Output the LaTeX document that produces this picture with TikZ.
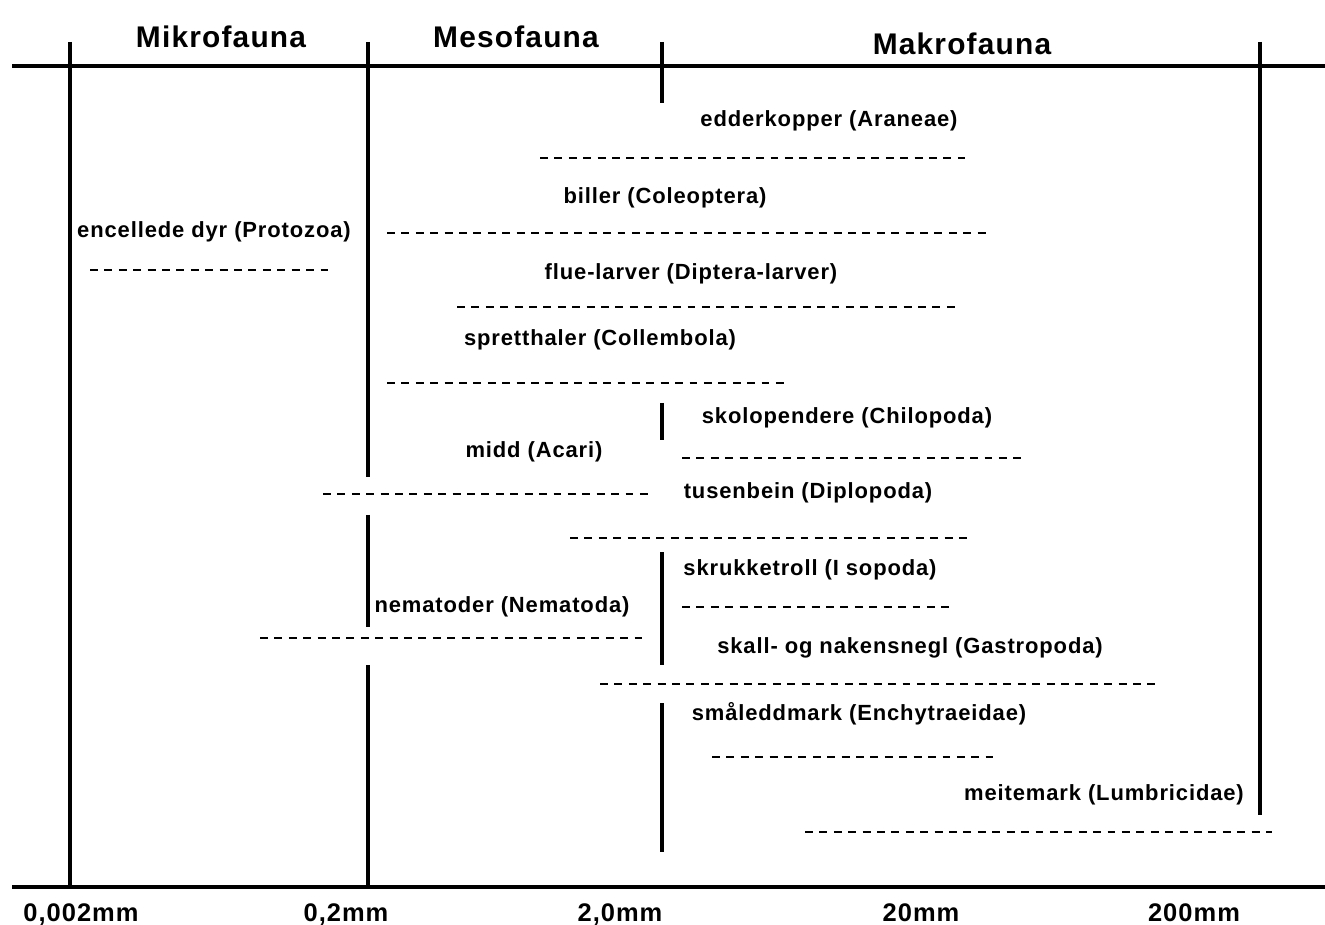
\documentclass[tikz,border=0pt]{standalone}
\usepackage{fontspec}
\setmainfont{Liberation Sans}[LetterSpace=4]
\usepackage{tikz}
\usetikzlibrary{positioning}

\begin{document}
\begin{tikzpicture}[x=0.02cm,y=-0.02cm,semithick]
  \tikzstyle{grouplabel}=[font=\fontsize{17}{20}\selectfont\bfseries,text height=1.6ex,text depth=.4ex]
  \tikzstyle{taxonlabel}=[font=\fontsize{12.5}{15}\selectfont\bfseries,inner sep=0pt,text height=1.6ex,text depth=.4ex]
  \tikzstyle{sizelabel}=[font=\fontsize{14.5}{17}\selectfont\bfseries,inner sep=0pt,text height=1.6ex,text depth=.4ex]
  \tikzstyle{rangeline}=[line width=1.4pt,dash pattern=on 4.5pt off 3.7pt]
  \tikzstyle{barline}=[line width=1.9pt]
  \useasboundingbox (0,0) rectangle (1325,925);

  % frame
  \coordinate (L1) at (12,66);    \coordinate (R1) at (1325,66);
  \coordinate (L2) at (12,887);   \coordinate (R2) at (1325,887);
  \coordinate (A0) at (70,42);    \coordinate (A1) at (70,887);
  \coordinate (B0) at (368,42);   \coordinate (B1) at (368,477);
  \coordinate (B2) at (368,515);  \coordinate (B3) at (368,627);
  \coordinate (B4) at (368,665);  \coordinate (B5) at (368,887);
  \coordinate (C0) at (662,42);   \coordinate (C1) at (662,103);
  \coordinate (C2) at (662,403);  \coordinate (C3) at (662,440);
  \coordinate (C4) at (662,552);  \coordinate (C5) at (662,665);
  \coordinate (C6) at (662,703);  \coordinate (C7) at (662,852);
  \coordinate (D0) at (1260,42);  \coordinate (D1) at (1260,815);

  \draw[line width=2.2pt] (L1) -- (R1);
  \draw[line width=2.3pt] (L2) -- (R2);
  \path[barline] (A0) edge (A1)
        (B0) edge (B1)
        (B2) edge (B3)
        (B4) edge (B5)
        (C0) edge (C1)
        (C2) edge (C3)
        (C4) edge (C5)
        (C6) edge (C7)
        (D0) edge (D1);

  % groups
  \node[grouplabel] (mikro) at (221,42) {Mikrofauna};
  \node[grouplabel] (meso)  at (516,42) {Mesofauna};
  \node[grouplabel] (makro) at (962,49) {Makrofauna};

  % taxa
  \node[taxonlabel] (araneae)    at (829,121) {edderkopper (Araneae)};
  \node[taxonlabel] (coleoptera) at (665,198) {biller (Coleoptera)};
  \node[taxonlabel] (protozoa)   at (214,232) {encellede dyr (Protozoa)};
  \node[taxonlabel] (diptera)    at (691,274) {flue-larver (Diptera-larver)};
  \node[taxonlabel] (collembola) at (600,340) {spretthaler (Collembola)};
  \node[taxonlabel] (chilopoda)  at (847,418) {skolopendere (Chilopoda)};
  \node[taxonlabel] (acari)      at (534,452) {midd (Acari)};
  \node[taxonlabel] (diplopoda)  at (808,493) {tusenbein (Diplopoda)};
  \node[taxonlabel] (isopoda)    at (810,570) {skrukketroll (I sopoda)};
  \node[taxonlabel] (nematoda)   at (502,607) {nematoder (Nematoda)};
  \node[taxonlabel] (gastropoda) at (910,648) {skall- og nakensnegl (Gastropoda)};
  \node[taxonlabel] (enchy)      at (859,715) {småleddmark (Enchytraeidae)};
  \node[taxonlabel] (lumbri)     at (1104,795) {meitemark (Lumbricidae)};

  % ranges
  \draw[rangeline] (540,158) -- (965,158);
  \draw[rangeline] (387,233) -- (987,233);
  \draw[rangeline] (90,270) -- (330,270);
  \draw[rangeline] (457,307) -- (957,307);
  \draw[rangeline] (387,383) -- (785,383);
  \draw[rangeline] (682,458) -- (1022,458);
  \draw[rangeline] (323,494) -- (650,494);
  \draw[rangeline] (570,538) -- (967,538);
  \draw[rangeline] (682,607) -- (950,607);
  \draw[rangeline] (260,638) -- (642,638);
  \draw[rangeline] (600,684) -- (1157,684);
  \draw[rangeline] (712,757) -- (993,757);
  \draw[rangeline] (805,832) -- (1272,832);

  % scale
  \node[sizelabel] (s1) at (81,916)   {0,002mm};
  \node[sizelabel] (s2) at (346,916)  {0,2mm};
  \node[sizelabel] (s3) at (620,916)  {2,0mm};
  \node[sizelabel] (s4) at (921,916)  {20mm};
  \node[sizelabel] (s5) at (1194,916) {200mm};
\end{tikzpicture}
\end{document}
